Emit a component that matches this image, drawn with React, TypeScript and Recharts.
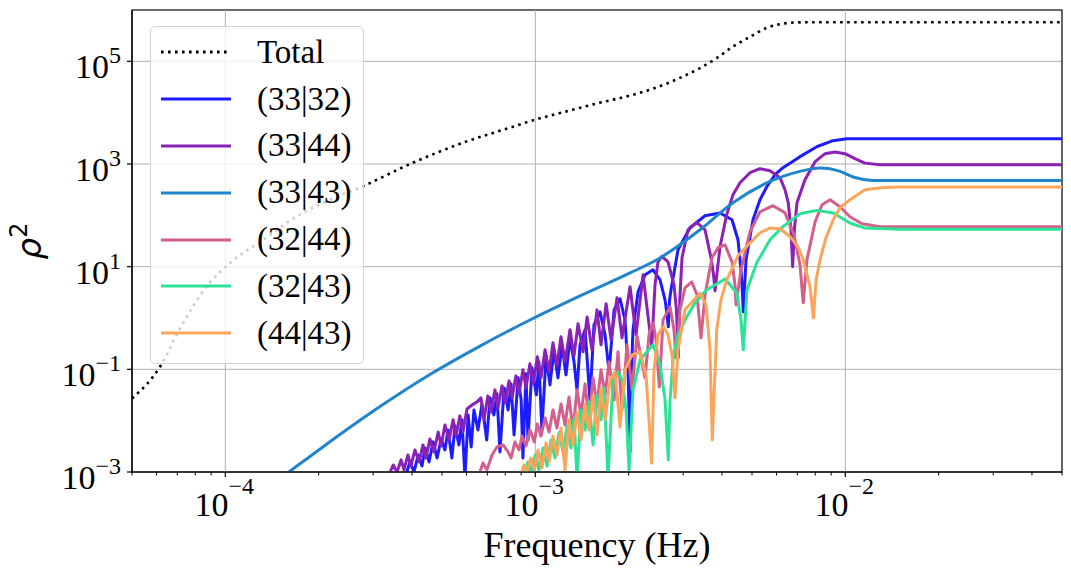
import React from "react";
import {
  LineChart,
  Line,
  XAxis,
  YAxis,
  CartesianGrid,
  ReferenceLine,
  ReferenceArea,
  Legend,
} from "recharts";

type Pt = [number, number];

// axis setup
const xDomain = [5e-5, 5e-2];
const yDomain = [1e-3, 1e6];
const xMajorTicks = [1e-4, 1e-3, 1e-2];
const xMajorExp = ["\u22124", "\u22123", "\u22122"];
const xMinorTicks = [
  5e-5, 6e-5, 7e-5, 8e-5, 9e-5, 2e-4, 3e-4, 4e-4, 5e-4, 6e-4, 7e-4, 8e-4, 9e-4,
  2e-3, 3e-3, 4e-3, 5e-3, 6e-3, 7e-3, 8e-3, 9e-3, 2e-2, 3e-2, 4e-2, 5e-2,
];
const yMajorTicks = [1e-3, 1e-1, 1e1, 1e3, 1e5];
const yMajorExp = ["\u22123", "\u22121", "1", "3", "5"];

// [frequency (Hz), rho^2]
const totalPts: Pt[] = [
  [5.0e-5, 0.027], [6.2e-5, 0.12], [7.1e-5, 0.58], [8.7e-5, 4.1], [1.04e-4, 12],
  [1.32e-4, 33], [1.7e-4, 95], [2.17e-4, 200], [2.78e-4, 370], [4.03e-4, 1060],
  [5.85e-4, 2600], [8.28e-4, 5100], [1.0e-3, 7300], [1.26e-3, 10600], [1.62e-3, 15700],
  [2.07e-3, 22400], [2.65e-3, 36700], [3.0e-3, 51000], [3.4e-3, 74000], [3.85e-3, 116000],
  [4.35e-3, 196000], [4.92e-3, 299000], [5.57e-3, 448000], [6.31e-3, 543000],
  [7.14e-3, 575000], [1.1e-2, 577000], [5.0e-2, 577000],
];

const p3332: Pt[] = [
  [3.8e-4, 7.7e-4], [3.94e-4, 1.57e-3], [4.06e-4, 1.0e-3], [4.19e-4, 2.15e-3], [4.31e-4, 1.31e-3],
  [4.41e-4, 2.94e-3], [4.54e-4, 1.57e-3], [4.68e-4, 3.86e-3], [4.82e-4, 1.88e-3], [4.97e-4, 4.4e-3],
  [5.11e-4, 2.69e-3], [5.23e-4, 6.6e-3], [5.38e-4, 1.88e-3], [5.51e-4, 7.9e-3], [5.67e-4, 3.37e-3],
  [5.8e-4, 1.04e-2], [5.93e-4, 7.7e-4], [6.07e-4, 1.29e-2], [6.21e-4, 3.08e-3], [6.34e-4, 1.62e-2],
  [6.53e-4, 6.6e-3], [6.73e-4, 2.12e-2], [6.97e-4, 4.21e-3], [7.14e-4, 2.78e-2], [7.35e-4, 1.29e-2],
  [7.52e-4, 3.33e-2], [7.69e-4, 2.46e-3], [7.93e-4, 4.35e-2], [8.17e-4, 1.62e-2], [8.35e-4, 5.21e-2],
  [8.54e-4, 5.27e-3], [8.8e-4, 6.82e-2], [9.0e-4, 2.54e-2], [9.12e-4, 1.88e-3], [9.33e-4, 8.17e-2],
  [9.47e-4, 4.21e-3], [9.75e-4, 0.107], [1.0075e-3, 3.18e-2], [1.027e-3, 0.14], [1.05e-3, 6.6e-3],
  [1.083e-3, 0.183], [1.115e-3, 4.98e-2], [1.148e-3, 0.24], [1.183e-3, 6.82e-2], [1.219e-3, 0.3],
  [1.256e-3, 7.8e-2], [1.294e-3, 0.411], [1.333e-3, 0.14], [1.363e-3, 3.98e-2], [1.394e-3, 0.3],
  [1.447e-3, 0.588], [1.501e-3, 2.54e-2], [1.546e-3, 0.736], [1.617e-3, 1.32], [1.679e-3, 0.47],
  [1.729e-3, 8.93e-2], [1.795e-3, 1.44], [1.876e-3, 2.37], [1.947e-3, 0.92], [1.991e-3, 9.77e-2],
  [2.021e-3, 2.46e-3], [2.036e-3, 6.23e-2], [2.066e-3, 0.588], [2.145e-3, 3.24], [2.259e-3, 6.94],
  [2.397e-3, 8.69], [2.525e-3, 5.55], [2.621e-3, 2.26], [2.66e-3, 1.15], [2.685e-3, 0.673],
  [2.71e-3, 2.26], [2.74e-3, 3.54], [2.886e-3, 21.3], [3.155e-3, 57.3], [3.527e-3, 98],
  [3.942e-3, 111], [4.31e-3, 82], [4.506e-3, 33.4], [4.608e-3, 8.69], [4.652e-3, 3.54],
  [4.686e-3, 1.32], [4.783e-3, 13.6], [5.037e-3, 82], [5.306e-3, 201], [5.579e-3, 360],
  [5.931e-3, 618], [6.294e-3, 847], [7.141e-3, 1390], [8.09e-3, 2170], [9.12e-3, 2850],
  [1.011e-2, 3110], [1.201e-2, 3110], [5.0e-2, 3110],
];

const p3344: Pt[] = [
  [3.34e-4, 7.7e-4], [3.48e-4, 1.37e-3], [3.58e-4, 1.0e-3], [3.69e-4, 1.72e-3], [3.77e-4, 1.1e-3],
  [3.88e-4, 2.15e-3], [3.97e-4, 1.31e-3], [4.09e-4, 2.69e-3], [4.22e-4, 1.57e-3], [4.34e-4, 3.37e-3],
  [4.44e-4, 1.88e-3], [4.57e-4, 4.4e-3], [4.71e-4, 2.46e-3], [4.86e-4, 6.0e-3], [4.97e-4, 3.22e-3],
  [5.11e-4, 8.26e-3], [5.27e-4, 4.21e-3], [5.43e-4, 1.04e-2], [5.55e-4, 5.0e-3], [5.71e-4, 1.24e-2],
  [5.84e-4, 6.0e-3], [6.02e-4, 1.69e-2], [6.25e-4, 2.03e-2], [6.49e-4, 2.32e-2], [6.68e-4, 2.78e-2],
  [6.83e-4, 1.04e-2], [7.03e-4, 3.04e-2], [7.19e-4, 1.48e-2], [7.41e-4, 3.98e-2], [7.58e-4, 1.77e-2],
  [7.81e-4, 4.76e-2], [7.99e-4, 2.22e-2], [8.23e-4, 5.96e-2], [8.41e-4, 2.78e-2], [8.66e-4, 7.46e-2],
  [8.86e-4, 3.33e-2], [9.12e-4, 9.77e-2], [9.33e-4, 4.35e-2], [9.61e-4, 0.128], [9.85e-4, 5.21e-2],
  [1.015e-3, 0.175], [1.043e-3, 6.82e-2], [1.075e-3, 0.24], [1.107e-3, 8.93e-2], [1.14e-3, 0.328],
  [1.174e-3, 0.117], [1.21e-3, 0.43], [1.247e-3, 0.14], [1.294e-3, 0.588], [1.333e-3, 0.183],
  [1.373e-3, 0.769], [1.426e-3, 0.219], [1.469e-3, 1.05], [1.523e-3, 0.24], [1.581e-3, 1.44],
  [1.629e-3, 0.3], [1.692e-3, 1.89], [1.755e-3, 0.376], [1.835e-3, 2.48], [1.904e-3, 0.411],
  [2.021e-3, 4.06], [2.113e-3, 0.47], [2.226e-3, 6.94], [2.374e-3, 0.274], [2.433e-3, 4.43],
  [2.488e-3, 12.4], [2.558e-3, 15.8], [2.68e-3, 12.4], [2.801e-3, 4.43], [2.853e-3, 1.44],
  [2.891e-3, 0.168], [2.924e-3, 2.26], [2.973e-3, 14.9], [3.108e-3, 52.3], [3.317e-3, 72.8],
  [3.527e-3, 52.3], [3.687e-3, 14.9], [3.757e-3, 6.94], [3.799e-3, 3.39], [3.942e-3, 24.4],
  [4.144e-3, 103], [4.342e-3, 252], [4.574e-3, 432], [4.926e-3, 676], [5.306e-3, 809],
  [5.715e-3, 740], [6.156e-3, 541], [6.388e-3, 315], [6.545e-3, 176], [6.68e-3, 52.4],
  [6.763e-3, 9.95], [6.85e-3, 52.4], [6.984e-3, 176], [7.41e-3, 494], [7.99e-3, 1110],
  [8.6e-3, 1590], [9.26e-3, 1710], [9.98e-3, 1590], [1.074e-2, 1270], [1.157e-2, 1040],
  [1.294e-2, 970], [5.0e-2, 970],
];

const p3343: Pt[] = [
  [1.4e-4, 5.0e-4], [1.605e-4, 1.0e-3], [1.875e-4, 2.01e-3], [2.18e-4, 3.92e-3], [3.155e-4, 1.88e-2],
  [4.57e-4, 7.93e-2], [6.63e-4, 0.284], [9.61e-4, 0.914], [1.394e-3, 2.69], [2.021e-3, 7.54],
  [2.525e-3, 14.8], [3.398e-3, 52.3], [4.342e-3, 176], [5.579e-3, 427], [7.141e-3, 718],
  [8.29e-3, 836], [9.61e-3, 718], [1.059e-2, 558], [1.228e-2, 479], [1.501e-2, 477], [5.0e-2, 477],
];

const p3244: Pt[] = [
  [6.53e-4, 7.7e-4], [6.78e-4, 1.5e-3], [6.98e-4, 1.1e-3], [7.25e-4, 2.15e-3], [7.52e-4, 3.08e-3],
  [7.87e-4, 3.37e-3], [8.17e-4, 2.46e-3], [8.35e-4, 1.88e-3], [8.6e-4, 3.86e-3], [8.86e-4, 2.69e-3],
  [9.06e-4, 5.0e-3], [9.33e-4, 3.22e-3], [9.61e-4, 6.6e-3], [9.93e-4, 3.86e-3], [1.015e-3, 8.65e-3],
  [1.043e-3, 5.0e-3], [1.075e-3, 1.13e-2], [1.107e-3, 6.0e-3], [1.14e-3, 1.62e-2], [1.174e-3, 7.2e-3],
  [1.21e-3, 2.12e-2], [1.247e-3, 8.26e-3], [1.284e-3, 2.9e-2], [1.323e-3, 6.6e-3], [1.363e-3, 3.98e-2],
  [1.404e-3, 1.29e-2], [1.447e-3, 5.21e-2], [1.49e-3, 1.04e-2], [1.535e-3, 6.82e-2], [1.581e-3, 2.03e-2],
  [1.629e-3, 9.77e-2], [1.679e-3, 3.18e-2], [1.729e-3, 0.14], [1.795e-3, 2.54e-2], [1.848e-3, 0.219],
  [1.904e-3, 1.62e-2], [1.976e-3, 0.3], [2.051e-3, 3.98e-2], [2.128e-3, 0.45], [2.259e-3, 6.82e-2],
  [2.327e-3, 0.47], [2.397e-3, 0.805], [2.451e-3, 0.376], [2.512e-3, 4.55e-2], [2.582e-3, 0.92],
  [2.72e-3, 1.65], [2.801e-3, 0.588], [2.843e-3, 0.168], [2.929e-3, 1.44], [3.04e-3, 3.88],
  [3.196e-3, 5.08], [3.323e-3, 2.83], [3.424e-3, 0.411], [3.527e-3, 2.83], [3.715e-3, 14.9],
  [3.884e-3, 23.4], [4.091e-3, 26.7], [4.31e-3, 12.4], [4.407e-3, 4.43], [4.44e-3, 1.81],
  [4.608e-3, 8.69], [4.926e-3, 47.9], [5.306e-3, 117], [5.843e-3, 154], [6.388e-3, 112],
  [6.83e-3, 41.8], [7.141e-3, 10.9], [7.315e-3, 1.98], [7.52e-3, 13.6], [7.99e-3, 75],
  [8.41e-3, 161], [8.93e-3, 201], [9.61e-3, 147], [1.035e-2, 94], [1.132e-2, 68.5],
  [1.294e-2, 60], [5.0e-2, 60],
];

const p3243: Pt[] = [
  [9.19e-4, 7.7e-4], [9.47e-4, 1.57e-3], [9.68e-4, 1.0e-3], [1.0e-3, 2.15e-3], [1.027e-3, 1.1e-3],
  [1.059e-3, 2.94e-3], [1.091e-3, 1.31e-3], [1.123e-3, 4.21e-3], [1.157e-3, 1.88e-3], [1.192e-3, 5.78e-3],
  [1.229e-3, 2.46e-3], [1.266e-3, 7.9e-3], [1.304e-3, 2.94e-3], [1.333e-3, 1.13e-2], [1.363e-3, 7.7e-4],
  [1.404e-3, 1.62e-2], [1.447e-3, 6.6e-3], [1.49e-3, 2.32e-2], [1.535e-3, 3.37e-3], [1.581e-3, 3.18e-2],
  [1.629e-3, 1.04e-2], [1.666e-3, 4.35e-2], [1.716e-3, 7.7e-4], [1.781e-3, 6.23e-2], [1.848e-3, 8.93e-2],
  [1.904e-3, 6.23e-2], [1.962e-3, 1.62e-2], [2.006e-3, 1.1e-3], [2.066e-3, 3.98e-2], [2.177e-3, 0.153],
  [2.397e-3, 0.3], [2.525e-3, 0.122], [2.621e-3, 2.54e-2], [2.685e-3, 1.72e-3], [2.72e-3, 2.54e-2],
  [2.786e-3, 0.175], [2.886e-3, 0.47], [3.08e-3, 1.05], [3.274e-3, 1.98], [3.573e-3, 3.54],
  [4.091e-3, 5.73], [4.462e-3, 3.1], [4.608e-3, 0.92], [4.686e-3, 0.24], [4.818e-3, 3.54],
  [5.178e-3, 11.9], [5.715e-3, 33.4], [6.306e-3, 60.8], [7.141e-3, 107], [8.09e-3, 125],
  [9.14e-3, 111], [1.035e-2, 70.8], [1.157e-2, 56.5], [1.501e-2, 53.6], [5.0e-2, 53.6],
];

const p4443: Pt[] = [
  [8.93e-4, 7.7e-4], [9.19e-4, 1.37e-3], [9.4e-4, 1.0e-3], [9.68e-4, 1.88e-3], [9.93e-4, 1.1e-3],
  [1.02e-3, 2.69e-3], [1.05e-3, 1.2e-3], [1.083e-3, 3.69e-3], [1.107e-3, 1.57e-3], [1.14e-3, 5.0e-3],
  [1.174e-3, 2.15e-3], [1.21e-3, 7.2e-3], [1.247e-3, 1.1e-3], [1.284e-3, 1.04e-2], [1.323e-3, 3.37e-3],
  [1.363e-3, 1.48e-2], [1.404e-3, 4.21e-3], [1.447e-3, 2.12e-2], [1.49e-3, 6.6e-3], [1.535e-3, 3.04e-2],
  [1.581e-3, 5.27e-3], [1.629e-3, 4.35e-2], [1.679e-3, 1.04e-2], [1.742e-3, 6.23e-2], [1.808e-3, 8.93e-2],
  [1.876e-3, 7.56e-3], [1.947e-3, 9.77e-2], [2.051e-3, 0.191], [2.177e-3, 0.219], [2.276e-3, 7.8e-2],
  [2.374e-3, 1.5e-3], [2.415e-3, 9.77e-2], [2.488e-3, 0.47], [2.588e-3, 0.683], [2.68e-3, 0.47],
  [2.761e-3, 0.191], [2.822e-3, 2.78e-2], [2.886e-3, 0.24], [3.04e-3, 1.44], [3.398e-3, 3.05],
  [3.553e-3, 1.81], [3.66e-3, 0.24], [3.722e-3, 4.21e-3], [3.848e-3, 0.588], [3.97e-3, 2.26],
  [4.144e-3, 5.55], [4.506e-3, 16.3], [4.926e-3, 28.8], [5.306e-3, 45.8], [5.715e-3, 56.5],
  [6.156e-3, 54.8], [6.63e-3, 38.8], [7.035e-3, 24.4], [7.315e-3, 13.6], [7.69e-3, 4.11],
  [7.89e-3, 1.0], [8.05e-3, 5.55], [8.29e-3, 13.6], [8.66e-3, 36.6], [9.14e-3, 82],
  [9.61e-3, 141], [1.035e-2, 201], [1.157e-2, 315], [1.326e-2, 350], [1.501e-2, 356], [5.0e-2, 356],
];

const SERIF = "'Liberation Serif', 'Times New Roman', Times, Tinos, 'DejaVu Serif', serif";

const series = [
  { name: "Total", points: totalPts, color: "#000000", dash: "2.6 4.4", width: 2.6, smooth: true },
  { name: "(33|32)", points: p3332, color: "#1c1cff", dash: undefined, width: 3, smooth: false },
  { name: "(33|44)", points: p3344, color: "#8a22b6", dash: undefined, width: 3, smooth: false },
  { name: "(33|43)", points: p3343, color: "#2085cb", dash: undefined, width: 3, smooth: true },
  { name: "(32|44)", points: p3244, color: "#d35f8d", dash: undefined, width: 3, smooth: false },
  { name: "(32|43)", points: p3243, color: "#2ae396", dash: undefined, width: 3, smooth: false },
  { name: "(44|43)", points: p4443, color: "#fba55a", dash: undefined, width: 3, smooth: false },
];

const toRows = (pts: Pt[]) => pts.map(([f, v]) => ({ f, v }));

const xAllTicks = [...xMajorTicks, ...xMinorTicks].sort((a, b) => a - b);

const findMajor = (list: number[], v: number) =>
  list.findIndex((t) => Math.abs(t - v) / t < 1e-6);

const XTick = (props: any) => {
  const { x, y, payload } = props;
  const i = findMajor(xMajorTicks, payload.value);
  if (i < 0) {
    return <line x1={x} x2={x} y1={y} y2={y + 3.5} stroke="#000" strokeWidth={1} />;
  }
  return (
    <g>
      <line x1={x} x2={x} y1={y} y2={y + 5} stroke="#000" strokeWidth={1.2} />
      <text x={x - 1} y={y + 44} textAnchor="middle" fontFamily={SERIF} fontSize={34} fill="#000">
        <tspan>10</tspan>
        <tspan dy={-22} fontSize={24}>{xMajorExp[i]}</tspan>
      </text>
    </g>
  );
};

const YTick = (props: any) => {
  const { x, y, payload } = props;
  const i = findMajor(yMajorTicks, payload.value);
  return (
    <g>
      <line x1={x - 5} x2={x} y1={y} y2={y} stroke="#000" strokeWidth={1.2} />
      <text x={x - 11} y={y + 17} textAnchor="end" fontFamily={SERIF} fontSize={34} fill="#000">
        <tspan>10</tspan>
        <tspan dy={-15} fontSize={24}>{yMajorExp[i]}</tspan>
      </text>
    </g>
  );
};

const XLabel = (props: any) => {
  const vb = props.viewBox || { x: 132, y: 472, width: 930 };
  return (
    <text x={vb.x + vb.width / 2} y={vb.y + 85} textAnchor="middle" fontFamily={SERIF} fontSize={36} fill="#000">
      Frequency (Hz)
    </text>
  );
};

const YLabel = (props: any) => {
  const vb = props.viewBox || { x: 0, y: 10, height: 462 };
  const cx = vb.x + 41;
  const cy = vb.y + vb.height / 2;
  return (
    <text x={cx} y={cy} transform={`rotate(-90, ${cx}, ${cy})`} textAnchor="middle" fontFamily="'DejaVu Sans', sans-serif" fontSize={34} fill="#000">
      <tspan fontStyle="italic">ρ</tspan>
      <tspan dy={-14} fontSize={24}>2</tspan>
    </text>
  );
};

const renderLegend = () => (
  <div
    style={{
      boxSizing: "border-box",
      width: 214,
      height: 338,
      background: "rgba(255,255,255,0.8)",
      border: "1px solid #d4d4d4",
      borderRadius: 5,
      paddingTop: 2,
    }}
  >
    {series.map((s) => (
      <div key={s.name} style={{ display: "flex", alignItems: "center", height: 46.8 }}>
        <svg width={70} height={8} style={{ marginLeft: 10, flex: "none" }}>
          <line x1={0} y1={4} x2={70} y2={4} stroke={s.color} strokeWidth={3} strokeDasharray={s.dash} />
        </svg>
        <span style={{ marginLeft: 26, fontFamily: SERIF, fontSize: 33, lineHeight: 1, color: "#000" }}>
          {s.name}
        </span>
      </div>
    ))}
  </div>
);

export default function App() {
  return (
    <div style={{ position: "absolute", left: 0, top: 0, width: 1071, height: 574, background: "#fff" }}>
      <LineChart width={1071} height={574} margin={{ top: 10, right: 9, bottom: 0, left: 0 }}>
        <CartesianGrid vertical={false} stroke="#b0b0b0" strokeWidth={1} />
        {xMajorTicks.map((t) => (
          <ReferenceLine key={t} x={t} stroke="#b0b0b0" strokeWidth={1} />
        ))}
        <XAxis
          type="number"
          dataKey="f"
          scale="log"
          domain={xDomain}
          allowDataOverflow
          ticks={xAllTicks}
          interval={0}
          tick={<XTick />}
          tickLine={false}
          tickSize={0}
          tickMargin={0}
          axisLine={{ stroke: "#000", strokeWidth: 1.2 }}
          height={102}
          label={<XLabel />}
        />
        <YAxis
          type="number"
          dataKey="v"
          scale="log"
          domain={yDomain}
          allowDataOverflow
          ticks={yMajorTicks}
          interval={0}
          tick={<YTick />}
          tickLine={false}
          tickSize={0}
          tickMargin={0}
          axisLine={{ stroke: "#000", strokeWidth: 1.2 }}
          width={132}
          label={<YLabel />}
        />
        {series.map((s) => (
          <Line
            key={s.name}
            name={s.name}
            data={toRows(s.points)}
            dataKey="v"
            type={s.smooth ? "monotone" : "linear"}
            stroke={s.color}
            strokeWidth={s.width}
            strokeDasharray={s.dash}
            strokeLinejoin="round"
            dot={false}
            activeDot={false}
            isAnimationActive={false}
          />
        ))}
        <ReferenceArea
          x1={xDomain[0]}
          x2={xDomain[1]}
          y1={yDomain[0]}
          y2={yDomain[1]}
          fill="none"
          fillOpacity={0}
          stroke="#000"
          strokeWidth={1.2}
          ifOverflow="visible"
        />
        <Legend
          layout="vertical"
          align="center"
          verticalAlign="middle"
          wrapperStyle={{ left: 150, top: 26, width: 214, height: 338 }}
          content={renderLegend}
        />
      </LineChart>
    </div>
  );
}
